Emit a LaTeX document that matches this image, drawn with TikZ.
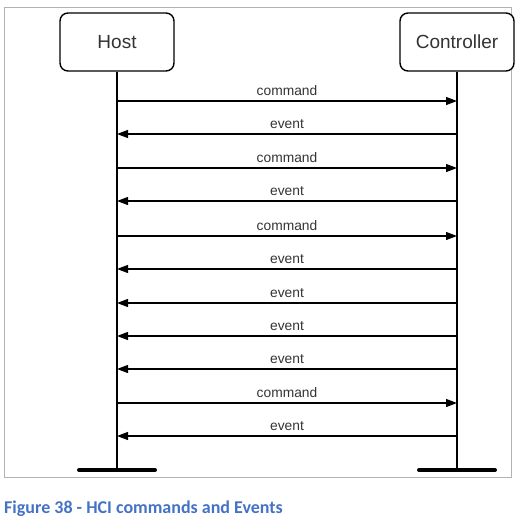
\documentclass[tikz,border=0pt]{standalone}
\usepackage{fontspec}
\setmainfont{Liberation Sans}
\newfontfamily\capfont{Carlito}
\usetikzlibrary{arrows.meta}
\definecolor{capblue}{HTML}{4472C4}
\definecolor{txtgray}{HTML}{333333}
\begin{document}
\begin{tikzpicture}[x=1pt,y=-1pt,
  actor/.style={draw=black,line width=1.4pt,rounded corners=8pt,fill=white,minimum width=114pt,minimum height=58pt,font=\fontsize{19}{22}\selectfont,text=txtgray},
  lifeline/.style={line width=1.5pt},
  msg/.style={line width=1.2pt,-{Triangle[length=11pt,width=8pt]}},
  lbl/.style={font=\fontsize{13.8}{15}\selectfont,text=txtgray,inner sep=0pt},
  basebar/.style={line width=4pt,line cap=round}]
\useasboundingbox (0,0) rectangle (527,523);
\draw[draw=black!30,line width=1pt] (4,7) rectangle (511,477);
\node[actor] (host) at (117,42) {Host};
\node[actor] (ctrl) at (457,42) {Controller};
\coordinate (hb) at (117,470);
\coordinate (cb) at (457,470);
\draw[lifeline] (host.south) -- (hb);
\draw[lifeline] (ctrl.south) -- (cb);
\coordinate (hbl) at (79,470); \coordinate (hbr) at (155,470);
\coordinate (cbl) at (419,470); \coordinate (cbr) at (495,470);
\draw[basebar] (hbl) -- (hbr);
\draw[basebar] (cbl) -- (cbr);
\foreach \y/\t/\d [count=\i] in {101/command/r,134/event/l,168/command/r,201/event/l,236/command/r,269/event/l,303/event/l,336/event/l,369/event/l,403/command/r,436/event/l}{
  \coordinate (h\i) at (117,\y);
  \coordinate (c\i) at (457,\y);
  \if r\d
    \draw[msg] (h\i) -- (c\i) node[lbl,midway,above=5pt] (m\i) {\t};
  \else
    \draw[msg] (c\i) -- (h\i) node[lbl,midway,above=5pt] (m\i) {\t};
  \fi
}
\node[anchor=west,inner sep=0pt,text=capblue,font=\capfont\bfseries\fontsize{18}{20}\selectfont] (cap) at (4,509) {Figure 38 - HCI commands and Events};
\end{tikzpicture}
\end{document}
